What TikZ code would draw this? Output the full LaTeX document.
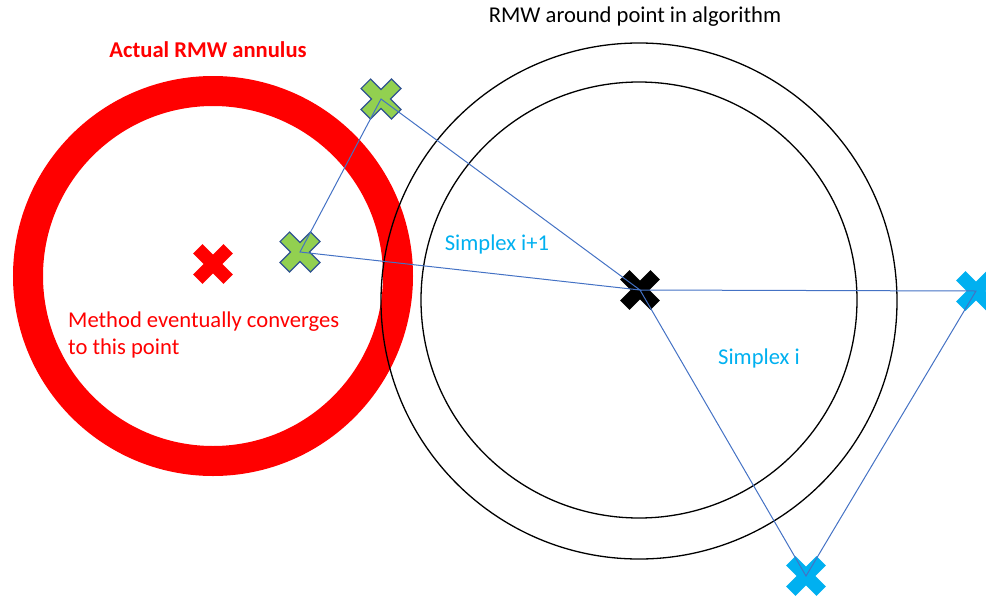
\documentclass[tikz,border=0pt]{standalone}
\usepackage{fontspec}
\setmainfont{Carlito}
\definecolor{xred}{HTML}{FF0000}
\definecolor{xgreen}{HTML}{92D050}
\definecolor{xgreenline}{HTML}{2F528F}
\definecolor{xblue}{HTML}{00B0F0}
\definecolor{xline}{HTML}{4472C4}
\begin{document}
\begin{tikzpicture}[x=1pt,y=-1pt,
  xcross/.pic={\path[pic actions,rotate=45]
     (21.5,6.7)--(6.7,6.7)--(6.7,21.5)--(-6.7,21.5)--(-6.7,6.7)--(-21.5,6.7)--
     (-21.5,-6.7)--(-6.7,-6.7)--(-6.7,-21.5)--(6.7,-21.5)--(6.7,-6.7)--(21.5,-6.7)--cycle;},
  lbl/.style={font=\fontsize{22.6}{27}\selectfont, inner sep=0pt},
  simplexline/.style={draw=xline, line width=1pt},
  ringline/.style={draw=black, line width=1.3pt}]
\useasboundingbox (0,0) rectangle (986,595);
% red annulus
\draw[xred, line width=30pt] (213,276) circle[radius=185];
% black circles
\draw[ringline] (639,301) circle[radius=258];
\draw[ringline] (639,300) circle[radius=218];
% points
\coordinate (redpt) at (213,264);
\coordinate (g1) at (381,99);
\coordinate (g2) at (300,252);
\coordinate (bk) at (640,290);
\coordinate (b1) at (976,291);
\coordinate (b2) at (806,576);
\pic[fill=xred] at (redpt) {xcross};
\pic[fill=xgreen, draw=xgreenline, line width=1.2pt] at (g1) {xcross};
\pic[fill=xgreen, draw=xgreenline, line width=1.2pt] at (g2) {xcross};
\pic[fill=black] at (bk) {xcross};
\pic[fill=xblue] at (b1) {xcross};
\pic[fill=xblue] at (b2) {xcross};
% simplex lines
\draw[simplexline] (g1) -- (g2) -- (bk) -- cycle;
\draw[simplexline] (bk) -- (b1) -- (b2) -- cycle;
% labels
\node[lbl, text=black] (t1) at (635,17) {RMW around point in algorithm};
\node[lbl, text=xred, font=\fontsize{22.6}{27}\selectfont\bfseries] (t2) at (208,50) {Actual RMW annulus};
\node[lbl, text=xblue] (t3) at (497,244) {Simplex i+1};
\node[lbl, text=xblue] (t4) at (759,358) {Simplex i};
\node[lbl, text=xred, align=left, anchor=north west] (t5) at (68,312) {Method eventually converges\\to this point};
\end{tikzpicture}
\end{document}
